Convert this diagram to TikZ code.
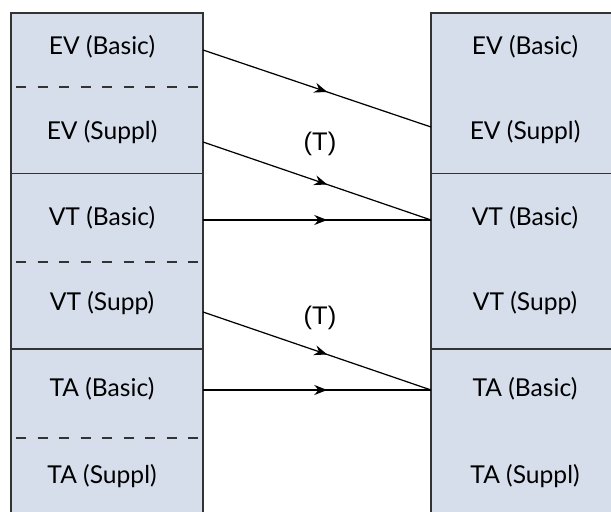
\documentclass[tikz,border=0pt]{standalone}
\usepackage{fontspec}
\setmainfont{Lato}
\newfontfamily\tagfont{Liberation Sans}
\usetikzlibrary{arrows.meta,decorations.markings}
\definecolor{boxfill}{RGB}{214,222,236}
\definecolor{boxline}{RGB}{51,51,51}

\begin{document}
\begin{tikzpicture}[
  cell/.style = {fill = boxfill, draw = boxline, line width = 0.8pt},
  rule/.style = {draw = boxline, line width = 0.8pt},
  sep/.style = {draw = boxline, line width = 0.8pt, dash pattern = on 0.2cm off 0.23cm},
  item/.style = {font = \fontsize{14}{16}\selectfont},
  tag/.style = {font = \tagfont\fontsize{14.5}{16}\selectfont},
  link/.style = {draw = black, line width = 0.7pt, postaction = {decorate},
    decoration = {markings, mark = at position 0.545 with {\arrow{Stealth[length=0.26cm, width=0.2cm]}}}}
]
\useasboundingbox (0,0) rectangle (12.22,10.22);
\clip (0,0) rectangle (12.22,10.22);
% the two columns
\filldraw[cell] (0.22,-0.5) rectangle (4.06,9.96);
\filldraw[cell] (8.62,-0.5) rectangle (13,9.96);
\foreach \y in {6.75,3.24} {
  \draw[rule] (0.22,\y) -- (4.06,\y);
  \draw[rule] (8.62,\y) -- (13,\y);
}
\foreach \y in {8.48,4.98,1.46}
  \draw[sep] (0.32,\y) -- (3.96,\y);
% left column
\node[item] (lEVb) at (2.04,9.28) {EV (Basic)};
\node[item] (lEVs) at (2.04,7.58) {EV (Suppl)};
\node[item] (lVTb) at (2.04,5.86) {VT (Basic)};
\node[item] (lVTs) at (2.04,4.16) {VT (Supp)};
\node[item] (lTAb) at (2.04,2.44) {TA (Basic)};
\node[item] (lTAs) at (2.04,0.70) {TA (Suppl)};
% right column
\node[item] (rEVb) at (10.5,9.28) {EV (Basic)};
\node[item] (rEVs) at (10.5,7.58) {EV (Suppl)};
\node[item] (rVTb) at (10.5,5.86) {VT (Basic)};
\node[item] (rVTs) at (10.5,4.16) {VT (Supp)};
\node[item] (rTAb) at (10.5,2.44) {TA (Basic)};
\node[item] (rTAs) at (10.5,0.70) {TA (Suppl)};
% connector ends on the column edges
\coordinate (outEVb) at (4.06,9.22);
\coordinate (outEVs) at (4.06,7.38);
\coordinate (outVTb) at (4.06,5.82);
\coordinate (outVTs) at (4.06,3.98);
\coordinate (outTAb) at (4.06,2.42);
\coordinate (inEVs) at (8.62,7.68);
\coordinate (inVTb) at (8.62,5.82);
\coordinate (inTAb) at (8.62,2.42);
\draw[link] (outEVb) -- (inEVs);
\draw[link] (outEVs) -- (inVTb);
\draw[link] (outVTb) -- (inVTb);
\draw[link] (outVTs) -- (inTAb);
\draw[link] (outTAb) -- (inTAb);
\node[tag] (tEV) at (6.4,7.34) {(T)};
\node[tag] (tVT) at (6.4,3.86) {(T)};
\end{tikzpicture}
\end{document}
